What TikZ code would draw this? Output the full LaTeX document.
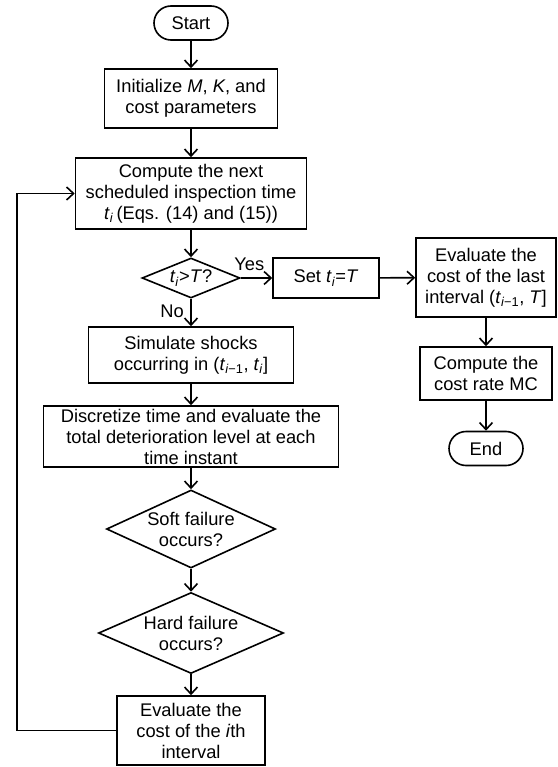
\documentclass[tikz,border=0pt]{standalone}
\usepackage{fontspec}
\setmainfont{Liberation Sans}
\usepackage{tikz}
\usetikzlibrary{arrows.meta, shapes.geometric}

\newcommand{\tsub}{\textit{t}\textsubscript{\textit{i}}}
\newcommand{\tprev}{\textit{t}\textsubscript{\textit{i}−1}}

\begin{document}
\begin{tikzpicture}[x=1pt, y=-1pt, line width=1.6pt, font=\fontsize{18.3}{21}\selectfont,
    box/.style={draw, rectangle, align=center, inner sep=0pt},
    terminal/.style={draw, rectangle, rounded corners=17pt, minimum width=74pt, minimum height=34pt, inner sep=0pt},
    decision/.style={draw, diamond, align=center, inner sep=0pt},
    flow/.style={-{Straight Barb[length=7pt, width=13pt]}}]

    % Define parameters
    \def\mainx{191}  % x of the main column
    \def\sidex{486}  % x of the right column

    % Page frame
    \useasboundingbox (0,0) rectangle (557,767);

    % Main column
    \node[terminal] (start) at (\mainx,23) {Start};
    \node[box, minimum width=173pt, minimum height=59pt] (init) at (\mainx,98.5) {Initialize \textit{M}, \textit{K}, and\\cost parameters};
    \node[box, minimum width=231pt, minimum height=71pt] (next) at (\mainx,193.5) {Compute the next\\scheduled inspection time\\\tsub\,(Eqs. (14) and (15))};
    \node[decision, aspect=2.45, minimum width=98pt, minimum height=40pt] (check) at (\mainx,278) {\tsub>\textit{T}?};
    \node[box, minimum width=205pt, minimum height=56pt] (shocks) at (\mainx,355) {Simulate shocks\\occurring in (\tprev, \tsub]};
    \node[box, minimum width=295pt, minimum height=61pt] (discr) at (\mainx,436.5) {Discretize time and evaluate the\\total deterioration level at each\\time instant};
    \node[decision, aspect=2.17, minimum width=169pt, minimum height=78pt] (soft) at (\mainx,529) {Soft failure\\occurs?};
    \node[decision, aspect=2.28, minimum width=185pt, minimum height=81pt] (hard) at (\mainx,633) {Hard failure\\occurs?};
    \node[box, minimum width=148pt, minimum height=69pt] (cost) at (\mainx,730.5) {Evaluate the\\cost of the \textit{i}th\\interval};

    % Right column
    \node[box, minimum width=106pt, minimum height=40pt] (setT) at (326,278) {Set \tsub=\textit{T}};
    \node[box, minimum width=140pt, minimum height=79pt] (last) at (\sidex,277.5) {Evaluate the\\cost of the last\\interval (\tprev, \textit{T}]};
    \node[box, minimum width=132pt, minimum height=53pt] (rate) at (\sidex,373.5) {Compute the\\cost rate MC};
    \node[terminal] (stop) at (\sidex,448.5) {End};

    % Corner of the loop back
    \coordinate (back) at (17,730.5);

    % Connectors
    \draw[flow] (start) -- (init);
    \draw[flow] (init) -- (next);
    \draw[flow] (next) -- (check);
    \draw[flow] (check) -- node[above, pos=0.27, yshift=3pt] {Yes} (setT);
    \draw[flow] (check) -- node[left, pos=0.45, xshift=-3pt] {No} (shocks);
    \draw[flow] (shocks) -- (discr);
    \draw[flow] (discr) -- (soft);
    \draw[flow] (soft) -- (hard);
    \draw[flow] (hard) -- (cost);
    \draw[flow] (cost.west) -- (back) |- (next.west);
    \draw[flow] (setT) -- (last);
    \draw[flow] (last) -- (rate);
    \draw[flow] (rate) -- (stop);
\end{tikzpicture}
\end{document}
